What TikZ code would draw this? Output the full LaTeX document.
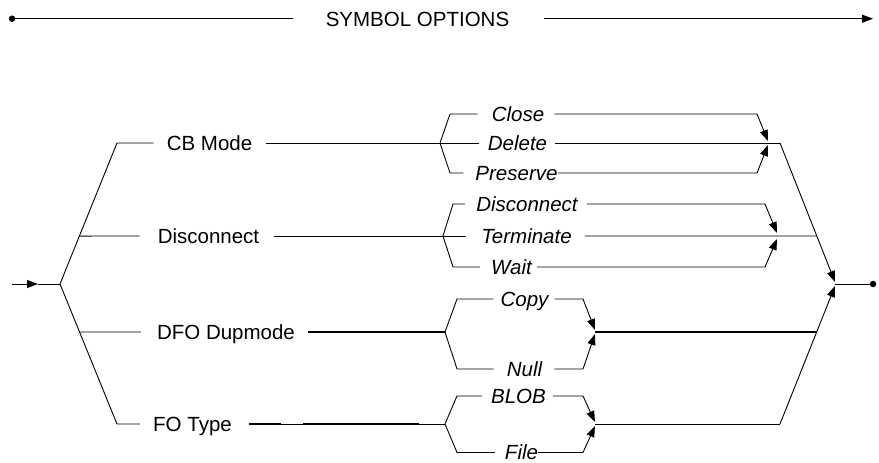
\documentclass[tikz,border=0pt]{standalone}
\usepackage{fontspec}
\setmainfont{Liberation Sans}
\usetikzlibrary{arrows.meta,calc}
\begin{document}
\begin{tikzpicture}[x=1pt,y=-1pt,
  ln/.style={line width=0.9pt},
  thk/.style={line width=1.9pt},
  arr/.style={-{Triangle[length=11pt,width=8pt]}},
  lbl/.style={font=\fontsize{20.5}{24}\selectfont, inner sep=0pt, text height=14.7pt, text depth=0pt},
  opt/.style={font=\fontsize{20.5}{24}\selectfont\itshape, inner sep=0pt, text height=14.7pt, text depth=0pt},
  dotnode/.style={circle, fill=black, inner sep=0pt, minimum size=6.5pt}]
\useasboundingbox (0,0) rectangle (879,463);

% header
\node[dotnode] (hdot) at (12,18.7) {};
\node[lbl] (title) at (417.5,18.7) {SYMBOL OPTIONS};
\coordinate (hend) at (873,18.7);
\draw[ln] (hdot) -- ([xshift=-33pt]title.west);
\draw[ln,arr] ([xshift=35pt]title.east) -- (hend);

% entry
\coordinate (in) at (12,284);
\coordinate (inmid) at (38,284);
\coordinate (J0) at (60,284);
\draw[ln,arr] (in) -- (inmid);
\draw[ln] (inmid) -- (J0);

% main labels
\node[lbl] (cb) at (209.5,143) {CB Mode};
\node[lbl] (disc) at (208.5,236) {Disconnect};
\node[lbl] (dfo) at (226,332) {DFO Dupmode};
\node[lbl] (fo) at (192.5,424) {FO Type};

% left spine
\coordinate (LT) at (117,143);
\coordinate (LB) at (117,424);
\path (J0) -- (LT) coordinate[pos=0.34] (LD);
\path (J0) -- (LB) coordinate[pos=0.343] (LF);
\draw[ln] (J0) -- (LT) -- ([xshift=-13pt]cb.west);
\draw[ln] (J0) -- (LB) -- ([xshift=-13pt]fo.west);
\draw[ln] (LD) -- ([xshift=-18pt]disc.west);
\draw[ln] (LF) -- ([xshift=-16pt]dfo.west);

% right spine
\coordinate (S1) at (780,143);
\coordinate (E1) at (835,282);
\coordinate (L4) at (780,424);
\coordinate (E2) at (835,286);
\coordinate (X0) at (835,284);
\node[dotnode] (xdot) at (873,284) {};
\path (S1) -- (E1) coordinate[pos=0.669] (S2);
\path (L4) -- (E2) coordinate[pos=0.667] (S3);
\draw[ln,arr] (S1) -- (E1);
\draw[ln,arr] (L4) -- (E2);
\draw[ln] (X0) -- (xdot);

% group 1: CB Mode
\coordinate (G1) at (440,143);
\node[opt] (close) at (518,114) {Close};
\node[opt] (delete) at (517.5,143) {Delete};
\node[opt] (preserve) at (516.5,173) {Preserve};
\coordinate (T1) at (768,141);
\coordinate (B1) at (768,145);
\draw[ln] ([xshift=14pt]cb.east) -- (G1);
\draw[ln] (G1) -- ($(G1|-close)+(10,0)$) -- ([xshift=-14pt]close.west);
\draw[ln] (G1) -- ([xshift=-9pt]delete.west);
\draw[ln] (G1) -- ($(G1|-preserve)+(10,0)$) -- ([xshift=-12pt]preserve.west);
\draw[ln,arr] ([xshift=10pt]close.east) -- ($(T1|-close)+(-11,0)$) -- (T1);
\draw[ln] ([xshift=8pt]delete.east) -- (S1);
\draw[ln,arr] (preserve.east) -- ($(B1|-preserve)+(-11,0)$) -- (B1);

% group 2: Disconnect
\coordinate (G2) at (443,236);
\node[opt] (disc2) at (527,204) {Disconnect};
\node[opt] (term) at (526.5,236) {Terminate};
\node[opt] (wait) at (511.5,267) {Wait};
\coordinate (T2) at (777,233);
\coordinate (B2) at (777,239);
\draw[ln] ([xshift=15pt]disc.east) -- (G2);
\draw[ln] (G2) -- ($(G2|-disc2)+(10,0)$) -- ([xshift=-11pt]disc2.west);
\draw[ln] (G2) -- ([xshift=-15pt]term.west);
\draw[ln] (G2) -- ($(G2|-wait)+(10,0)$) -- ([xshift=-11pt]wait.west);
\draw[ln,arr] ([xshift=9pt]disc2.east) -- ($(T2|-disc2)+(-12,0)$) -- (T2);
\draw[ln] ([xshift=13pt]term.east) -- (S2);
\draw[ln,arr] ([xshift=5pt]wait.east) -- ($(B2|-wait)+(-12,0)$) -- (B2);

% group 3: DFO Dupmode
\coordinate (G3) at (445,332);
\node[opt] (copy) at (524.5,299) {Copy};
\node[opt] (null) at (524.5,369) {Null};
\coordinate (T3) at (595,330);
\coordinate (B3) at (595,334);
\coordinate (M3) at (595,332);
\draw[thk] ([xshift=13pt]dfo.east) -- (G3);
\draw[ln] (G3) -- ($(G3|-copy)+(12,0)$) -- ([xshift=-7pt]copy.west);
\draw[ln] (G3) -- ($(G3|-null)+(12,0)$) -- ([xshift=-13pt]null.west);
\draw[ln,arr] ([xshift=6pt]copy.east) -- ($(T3|-copy)+(-12,0)$) -- (T3);
\draw[ln,arr] ([xshift=12pt]null.east) -- ($(B3|-null)+(-12,0)$) -- (B3);
\draw[thk] (M3) -- (S3);

% group 4: FO Type
\coordinate (G4) at (445,424);
\node[opt] (blob) at (518.5,396) {BLOB};
\node[opt] (file) at (521.5,452.5) {File};
\coordinate (T4) at (595,422);
\coordinate (B4) at (595,426);
\coordinate (M4) at (595,424);
\coordinate (fa) at (281,424);
\coordinate (fb) at (303,424);
\coordinate (fc) at (419,424);
\draw[ln] ([xshift=17pt]fo.east) -- (G4);
\draw[thk] ([xshift=17pt]fo.east) -- (fa);
\draw[thk] (fb) -- (fc);
\draw[ln] (G4) -- ($(G4|-blob)+(12,0)$) -- ([xshift=-9pt]blob.west);
\draw[ln] (G4) -- ($(G4|-file)+(12,0)$) -- ([xshift=-10pt]file.west);
\draw[ln,arr] ([xshift=7pt]blob.east) -- ($(T4|-blob)+(-12,0)$) -- (T4);
\draw[ln,arr] (file.east) -- ($(B4|-file)+(-12,0)$) -- (B4);
\draw[ln] (M4) -- (L4);
\end{tikzpicture}
\end{document}
